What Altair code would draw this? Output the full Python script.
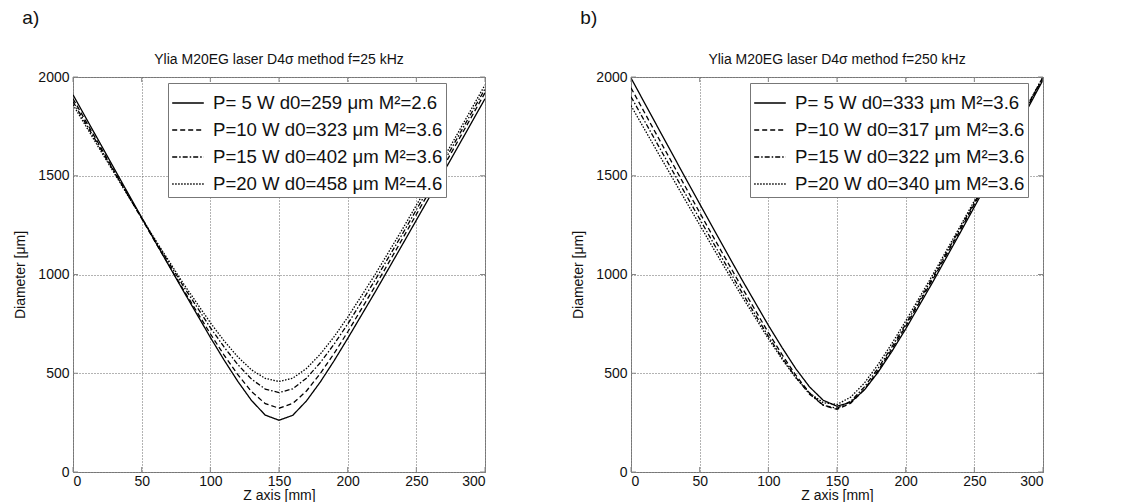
import altair as alt
import pandas as pd

Z = [0, 20, 40, 60, 80, 100, 110, 120, 130, 140, 150, 160, 170, 180, 190, 200, 220, 240, 260, 280, 300]

A_TITLE = "Ylia M20EG laser D4σ method f=25 kHz"
A_LABELS = ["P= 5 W d0=259 μm M²=2.6", "P=10 W d0=323 μm M²=3.6",
            "P=15 W d0=402 μm M²=3.6", "P=20 W d0=458 μm M²=4.6"]
A_P5 = [1910, 1661, 1412, 1165, 921, 682, 567, 459, 362, 288, 262, 287, 360, 455, 562, 676, 911, 1153, 1397, 1643, 1890]
A_P10 = [1890, 1646, 1403, 1163, 927, 700, 592, 493, 407, 346, 323, 347, 410, 498, 599, 709, 941, 1182, 1426, 1672, 1920]
A_P15 = [1875, 1637, 1402, 1170, 945, 731, 633, 544, 470, 420, 402, 421, 475, 553, 646, 749, 972, 1207, 1448, 1693, 1940]
A_P20 = [1860, 1628, 1399, 1175, 958, 756, 664, 583, 517, 474, 458, 475, 524, 596, 684, 783, 1000, 1231, 1470, 1713, 1960]

B_TITLE = "Ylia M20EG laser D4σ method f=250 kHz"
B_LABELS = ["P= 5 W d0=333 μm M²=3.6", "P=10 W d0=317 μm M²=3.6",
            "P=15 W d0=322 μm M²=3.6", "P=20 W d0=340 μm M²=3.6"]
B_P5 = [1995, 1739, 1484, 1232, 983, 743, 630, 523, 431, 363, 333, 353, 416, 506, 611, 724, 965, 1215, 1469, 1726, 1985]
B_P10 = [1945, 1691, 1439, 1189, 944, 706, 594, 490, 400, 338, 317, 348, 419, 514, 622, 737, 979, 1228, 1482, 1737, 1995]
B_P15 = [1900, 1651, 1404, 1159, 918, 687, 579, 479, 394, 338, 323, 358, 431, 526, 634, 748, 989, 1238, 1490, 1745, 2000]
B_P20 = [1855, 1612, 1371, 1132, 898, 675, 571, 477, 400, 351, 342, 379, 451, 545, 651, 764, 1002, 1248, 1498, 1750, 2000]

X_TICKS = [0, 50, 100, 150, 200, 250, 300]
Y_TICKS = [0, 500, 1000, 1500, 2000]
DASHES = [[1, 0], [5, 3], [5, 2, 1.5, 2], [1.5, 1.5]]

FONT = "Liberation Sans"
W, H = 412, 395
TICK = 5
AXIS_GREY = "#888"


def long_df(labels, series):
    rows = []
    for lab, vals in zip(labels, series):
        for z, d in zip(Z, vals):
            rows.append({"z": z, "d": d, "s": lab})
    return pd.DataFrame(rows)


X_ENC = alt.X("z:Q", scale=alt.Scale(domain=[0, 300], nice=False),
              axis=alt.Axis(values=X_TICKS, title="Z axis [mm]", format="d"))
Y_ENC = alt.Y("d:Q", scale=alt.Scale(domain=[0, 2000], nice=False),
              axis=alt.Axis(values=Y_TICKS, title="Diameter [μm]", format="d"))


def panel(title, labels, series, letter, legend_x):
    df = long_df(labels, series)
    lines = alt.Chart(df).mark_line(color="black", strokeWidth=1.3, clip=True).encode(
        x=X_ENC,
        y=Y_ENC,
        strokeDash=alt.StrokeDash(
            "s:N",
            scale=alt.Scale(domain=labels, range=DASHES),
            sort=labels,
            legend=alt.Legend(
                orient="none", legendX=legend_x, legendY=6, title=None,
                symbolType="stroke", symbolSize=1000, symbolStrokeWidth=1.5,
                symbolStrokeColor="black", labelFontSize=18.6, labelFont=FONT,
                labelColor="#111", labelLimit=500, strokeColor="#777",
                fillColor="white", padding=3, rowPadding=-4, cornerRadius=0,
                labelOffset=8,
            ),
        ),
        order="z:Q",
    )
    xt = pd.DataFrame({"z": X_TICKS})
    yt = pd.DataFrame({"d": Y_TICKS})
    tick_top = alt.Chart(xt).mark_rule(color=AXIS_GREY).encode(
        x=X_ENC, y=alt.value(0), y2=alt.value(TICK))
    tick_bot = alt.Chart(xt).mark_rule(color=AXIS_GREY).encode(
        x=X_ENC, y=alt.value(H - TICK), y2=alt.value(H))
    tick_left = alt.Chart(yt).mark_rule(color=AXIS_GREY).encode(
        y=Y_ENC, x=alt.value(0), x2=alt.value(TICK))
    tick_right = alt.Chart(yt).mark_rule(color=AXIS_GREY).encode(
        y=Y_ENC, x=alt.value(W - TICK), x2=alt.value(W))
    ch = alt.layer(lines, tick_top, tick_bot, tick_left, tick_right).properties(
        width=W, height=H,
        title=alt.TitleParams(title, fontSize=14, fontWeight="normal", font=FONT,
                              color="#111", offset=3, anchor="middle"),
    )
    wrap = alt.vconcat(ch).resolve_scale(strokeDash="independent").properties(
        title=alt.TitleParams(letter, fontSize=19, fontWeight="normal", font=FONT,
                              color="#111", anchor="start", offset=25, dx=9)
    )
    return wrap


pa = panel(A_TITLE, A_LABELS, [A_P5, A_P10, A_P15, A_P20], "a)", 95)
pb = panel(B_TITLE, B_LABELS, [B_P5, B_P10, B_P15, B_P20], "b)", 119)

chart = alt.hconcat(pa, pb, spacing=85).resolve_scale(
    strokeDash="independent"
).resolve_legend(strokeDash="independent").properties(
    padding={"left": 5, "top": 0, "right": 5, "bottom": 0}
).configure_view(
    stroke=AXIS_GREY, strokeWidth=1
).configure_axis(
    domain=False, ticks=False, grid=True, gridColor="#666", gridDash=[1, 2],
    gridWidth=1, gridOpacity=1, labelFont=FONT, labelFontSize=14,
    labelColor="#111", titleFont=FONT, titleFontSize=14, titleFontWeight="normal",
    titleColor="#111", labelPadding=4,
).configure_axisY(titlePadding=10).configure_axisX(
    labelPadding=2, titlePadding=0
).configure_concat(spacing=0)

chart.save("out.html", embed_options={"renderer": "svg", "actions": False})
